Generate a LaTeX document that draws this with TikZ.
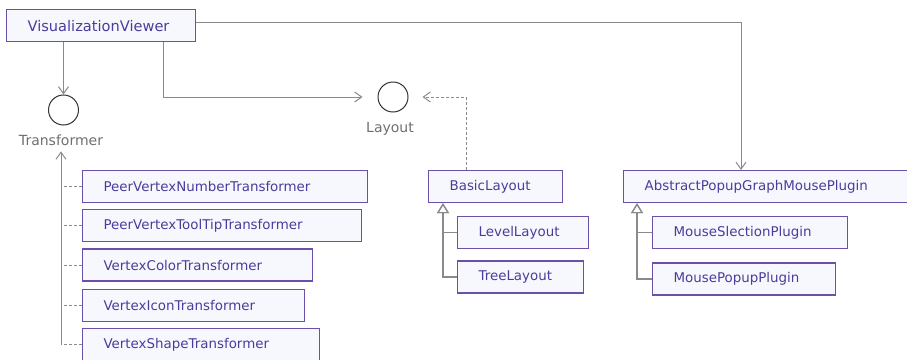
\documentclass[tikz,border=0pt]{standalone}
\usepackage{fontspec}
\setmainfont{DejaVu Sans}
\usetikzlibrary{arrows.meta, positioning}
\definecolor{clsborder}{HTML}{6A50A8}
\definecolor{clsfill}{HTML}{F7F8FD}
\definecolor{clstext}{HTML}{4B3C9C}
\definecolor{ifacetext}{HTML}{6F6F6F}
\definecolor{linkgray}{HTML}{8A8A8A}
\hyphenpenalty=10000
\tikzset{
  cls/.style={rectangle, draw=clsborder, fill=clsfill, line width=1.2pt, text=clstext,
              font=\fontsize{13.4}{16}\selectfont, align=left, inner xsep=21pt,
              minimum height=32pt, anchor=north west},
  iface/.style={circle, draw=black!80, line width=1pt, minimum size=30pt, inner sep=0pt},
  ifname/.style={text=ifacetext, font=\fontsize{14}{16}\selectfont, inner sep=1pt, anchor=base},
  uses/.style={-{Straight Barb[length=7pt, width=10pt]}, linkgray, line width=1pt},
  realize/.style={linkgray, line width=1pt, dash pattern=on 3pt off 2pt},
  extends/.style={-{Triangle[open, length=10pt, width=12pt]}, linkgray, line width=1.2pt},
}
\begin{document}
\begin{tikzpicture}[x=1pt, y=-1pt]
  \useasboundingbox (0,0) rectangle (907,359);

  % --- Viewer ---
  \node[cls, text width=147pt, font=\fontsize{14.6}{16}\selectfont] (viewer) at (6,9) {VisualizationViewer};

  % --- Interfaces ---
  \node[iface] (transformer) at (63.5,110) {};
  \node[ifname] (tname) at (61,145) {Transformer};
  \node[iface] (layout) at (393,97) {};
  \node[ifname] (lname) at (390,132) {Layout};

  % --- Transformer implementations ---
  \node[cls, text width=243pt] (pvn) at (82,170) {PeerVertexNumberTransformer};
  \node[cls, text width=237pt, below=6pt of pvn.south west, anchor=north west] (ptt) {PeerVertexToolTipTransformer};
  \node[cls, text width=188pt, below=6pt of ptt.south west, anchor=north west] (vct) {VertexColorTransformer};
  \node[cls, text width=180pt, below=7pt of vct.south west, anchor=north west] (vit) {VertexIconTransformer};
  \node[cls, text width=195pt, below=6pt of vit.south west, anchor=north west] (vst) {VertexShapeTransformer};

  % --- Layouts ---
  \node[cls, text width=92pt] (basic) at (428,170) {BasicLayout};
  \node[cls, text width=89pt, below=13pt of basic.south west, xshift=29pt, anchor=north west] (level) {LevelLayout};
  \node[cls, text width=84pt, below=11pt of level.south west, anchor=north west] (tree) {TreeLayout};

  % --- Mouse plugins ---
  \node[cls, text width=247pt] (popup) at (623,170) {AbstractPopupGraphMousePlugin};
  \node[cls, text width=153pt, below=13pt of popup.south west, xshift=29pt, anchor=north west] (msel) {MouseSlectionPlugin};
  \node[cls, text width=141pt, below=13pt of msel.south west, anchor=north west] (mpop) {MousePopupPlugin};

  % --- Associations ---
  \draw[uses] (transformer.north |- viewer.south) -- (transformer.north);
  \draw[uses, shorten >=15pt] ([xshift=-33pt]viewer.south east) |- (layout.west);
  \draw[uses] ([yshift=3pt]viewer.east) -| ([xshift=118pt]popup.north west);
  \draw[uses, realize, shorten >=14pt] ([xshift=38pt]basic.north west) |- (layout.east);

  % --- Realizations of Transformer ---
  \draw[uses, shorten >=5pt] (vst.west -| tname.south) -- (tname.south);
  \foreach \impl in {pvn, ptt, vct, vit, vst}
    \draw[realize] (\impl.west) -- (\impl.west -| tname.south);

  % --- Inheritance ---
  \draw[extends] (level.west) -| ([xshift=15pt]basic.south west);
  \draw[extends] (tree.west) -| ([xshift=15pt]basic.south west);
  \draw[extends] (msel.west) -| ([xshift=14pt]popup.south west);
  \draw[extends] (mpop.west) -| ([xshift=14pt]popup.south west);

\end{tikzpicture}
\end{document}
